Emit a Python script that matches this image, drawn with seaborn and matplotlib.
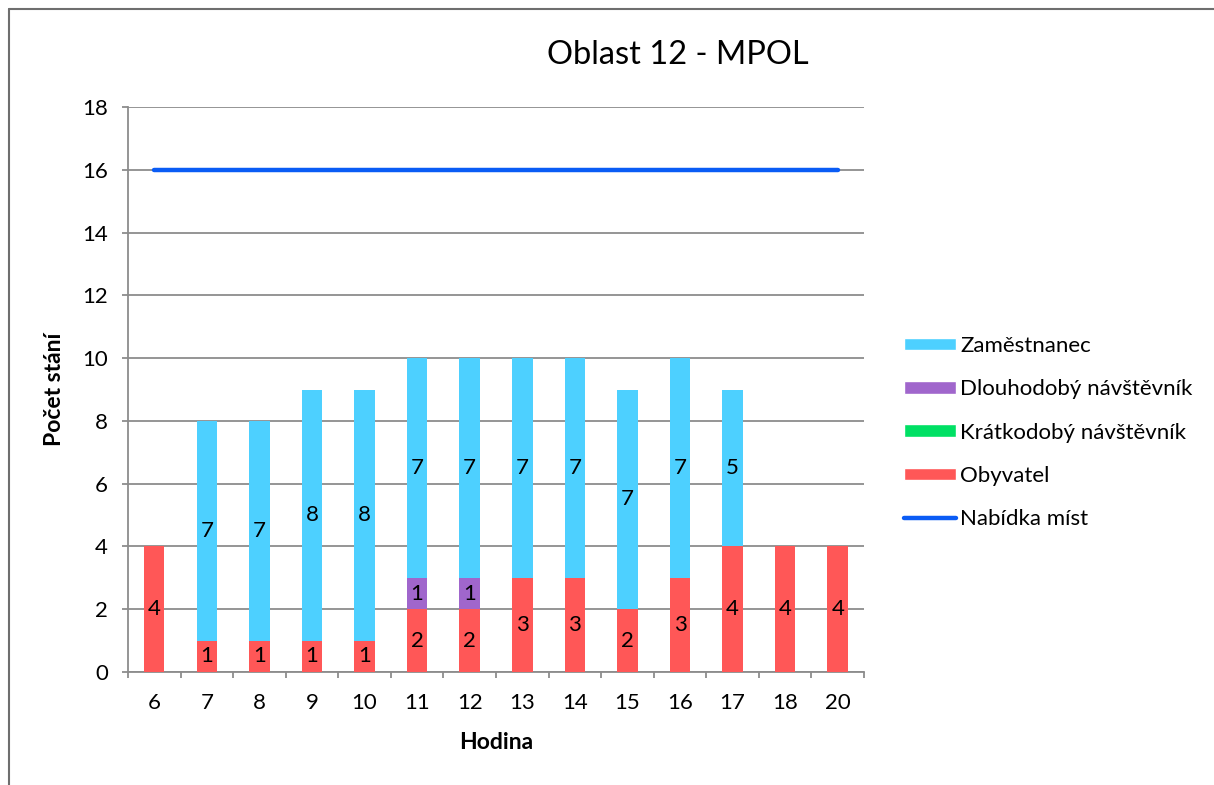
import numpy as np
import pandas as pd
import matplotlib
matplotlib.use("Agg")
import matplotlib.pyplot as plt
from matplotlib.patches import Patch
from matplotlib.lines import Line2D
from matplotlib.ticker import FixedLocator
import seaborn as sns

hours = ["6", "7", "8", "9", "10", "11", "12", "13", "14", "15", "16", "17", "18", "20"]
obyvatel = [4, 1, 1, 1, 1, 2, 2, 3, 3, 2, 3, 4, 4, 4]
kratkodoby = [0, 0, 0, 0, 0, 0, 0, 0, 0, 0, 0, 0, 0, 0]
dlouhodoby = [0, 0, 0, 0, 0, 1, 1, 0, 0, 0, 0, 0, 0, 0]
zamestnanec = [0, 7, 7, 8, 8, 7, 7, 7, 7, 7, 7, 5, 0, 0]
nabidka = [16] * 14

series_names = ["Obyvatel", "Krátkodobý návštěvník", "Dlouhodobý návštěvník", "Zaměstnanec"]
series_vals = [obyvatel, kratkodoby, dlouhodoby, zamestnanec]
colors = {
    "Obyvatel": "#FF5757",
    "Krátkodobý návštěvník": "#00E064",
    "Dlouhodobý návštěvník": "#A066CC",
    "Zaměstnanec": "#4DD0FF",
}
line_color = "#0A5CF5"
grid_color = "#8C8C8C"

sns.set_theme(style="white")
plt.rcParams["font.family"] = ["Lato", "DejaVu Sans"]
plt.rcParams["text.color"] = "black"
plt.rcParams["axes.labelcolor"] = "black"
plt.rcParams["xtick.color"] = "black"
plt.rcParams["ytick.color"] = "black"

fig = plt.figure(figsize=(12.14, 7.85), dpi=100)
ax = fig.add_axes([0.1054, 0.1439, 0.6063, 0.7198])

df = pd.DataFrame({"Hodina": hours})
for name, vals in zip(series_names, series_vals):
    df[name] = vals
cum = df[series_names].cumsum(axis=1)

# stacked bars: draw cumulative totals from the top layer down
for name in reversed(series_names):
    sns.barplot(data=df.assign(total=cum[name]), x="Hodina", y="total",
                order=hours, color=colors[name], width=0.39,
                saturation=1, linewidth=0, ax=ax, zorder=3)

# value labels centred in each segment
for i in range(len(hours)):
    base = 0
    for name in series_names:
        v = df.loc[i, name]
        if v > 0:
            ax.text(i, base + v / 2, str(v), ha="center", va="center",
                    fontsize=16, color="black", zorder=5)
        base += v

x_idx = np.arange(len(hours))
sns.lineplot(x=x_idx, y=nabidka, color=line_color, linewidth=3.2, ax=ax,
             zorder=4, solid_capstyle="round")

ax.set_xlim(-0.5, len(hours) - 0.5)
ax.set_ylim(0, 18)
ax.set_yticks(range(0, 19, 2))
ax.yaxis.grid(True, color=grid_color, linewidth=1.3, zorder=0)
ax.xaxis.grid(False)
ax.set_axisbelow(True)

for s in ["top", "right"]:
    ax.spines[s].set_visible(False)
for s in ["left", "bottom"]:
    ax.spines[s].set_color(grid_color)
    ax.spines[s].set_linewidth(1.3)

ax.set_xticks(x_idx)
ax.set_xticklabels(hours)
ax.xaxis.set_minor_locator(FixedLocator(np.arange(-0.5, len(hours), 1.0)))
ax.tick_params(axis="x", which="major", length=0, pad=15, labelsize=16, labelcolor="black")
ax.tick_params(axis="x", which="minor", direction="out", length=4.5, width=1.3,
               color=grid_color, bottom=True)
ax.tick_params(axis="y", which="major", direction="out", length=4.5, width=1.3,
               color=grid_color, pad=10, labelsize=16, labelcolor="black", left=True)

ax.set_xlabel("Hodina", fontsize=16.5, fontweight="bold", labelpad=14)
ax.set_ylabel("Počet stání", fontsize=16.5, fontweight="bold", labelpad=12)

fig.text(0.5585, 0.930, "Oblast 12 - MPOL", ha="center", va="center", fontsize=23.5)

handles = [Patch(facecolor=colors["Zaměstnanec"]),
           Patch(facecolor=colors["Dlouhodobý návštěvník"]),
           Patch(facecolor=colors["Krátkodobý návštěvník"]),
           Patch(facecolor=colors["Obyvatel"]),
           Line2D([0], [0], color=line_color, linewidth=3.2, solid_capstyle="round")]
labels = ["Zaměstnanec", "Dlouhodobý návštěvník", "Krátkodobý návštěvník",
          "Obyvatel", "Nabídka míst"]
fig.legend(handles, labels, loc="center left", bbox_to_anchor=(0.737, 0.449),
           frameon=False, fontsize=16, handlelength=2.35, handleheight=0.5,
           handletextpad=0.2, labelspacing=1.05, borderaxespad=0)

# outer chart frame: top and left edges
fx, fy = 8.5 / 1214, 1 - 8.5 / 785
fig.add_artist(Line2D([fx, 1.0], [fy, fy], transform=fig.transFigure,
                      color="#6E6E6E", linewidth=1.5))
fig.add_artist(Line2D([fx, fx], [0.0, fy], transform=fig.transFigure,
                      color="#6E6E6E", linewidth=1.5))

fig.savefig("out.png", dpi=100)
